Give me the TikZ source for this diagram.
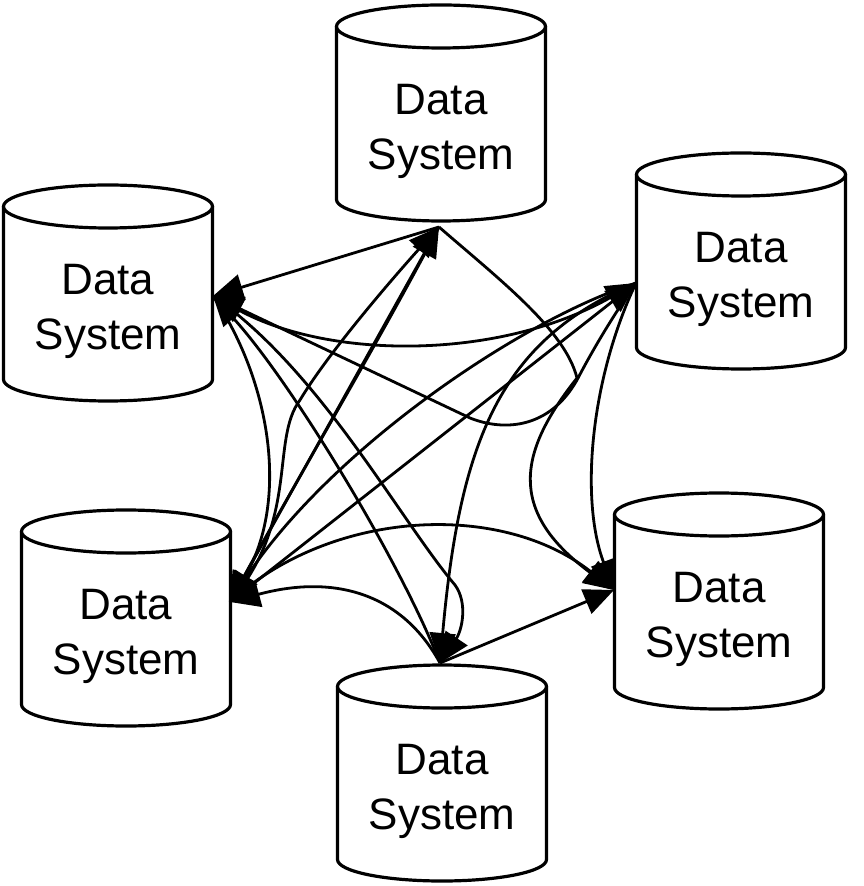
\documentclass[tikz,border=0pt]{standalone}
\usepackage{fontspec}
\setmainfont{Liberation Sans}
\usetikzlibrary{arrows.meta}

% one database drum: name, centre x, top y; label is the named node
\newcommand{\dbcylinder}[3]{%
  \begin{scope}[shift={(#2,#3)}]
    \draw[cyl] (-104.5,21.5) -- (-104.5,194.5)
      arc[start angle=180, end angle=0, x radius=104.5, y radius=21.5]
      -- (104.5,21.5);
    \draw[cyl] (0,21.5) ellipse[x radius=104.5, y radius=21.5];
  \end{scope}
  \node[lbl] (#1) at (#2,#3+126) {Data\\System};
}

\begin{document}
\begin{tikzpicture}[x=0.5pt, y=-0.5pt,
  cyl/.style={line width=1.6pt, fill=white},
  lbl/.style={font=\fontsize{22}{27.5}\selectfont, align=center, inner sep=0pt},
  flow/.style={line width=1.4pt, -{Triangle[length=15pt,width=13pt]}},
  twoway/.style={line width=1.4pt, {Triangle[length=15pt,width=13pt]}-{Triangle[length=15pt,width=13pt]}}]
\useasboundingbox (0,0) rectangle (863,886);

% the six data systems
\dbcylinder{dsT}{441}{5}
\dbcylinder{dsUL}{108}{185}
\dbcylinder{dsUR}{741}{153}
\dbcylinder{dsLL}{126}{510}
\dbcylinder{dsLR}{719}{493}
\dbcylinder{dsB}{442}{665}

% connection points on each drum
\coordinate (ts)  at (439,227);
\coordinate (ule) at (213,296);
\coordinate (urw) at (636,283);
\coordinate (lle) at (230,602);
\coordinate (lrw) at (614,590);
\coordinate (bn)  at (440,663);

% point-to-point interfaces
\draw[flow] (ts) -- (ule);
\draw[twoway] (ule) .. controls (330,360) and (500,360) .. (urw);
\draw[flow] (urw) .. controls (610,320) and (590,355) .. (577,380)
  .. controls (550,428) and (505,432) .. (470,418) -- (ule);
\draw[flow] (ule) .. controls (320,370) and (400,520) .. (455,585)
  .. controls (468,603) and (462,630) .. (bn);
\draw[flow] (ule) .. controls (270,380) and (290,500) .. (lle);
\draw[flow] (lle) -- (ts);
\draw[flow] (ts) .. controls (377,345) and (302,470) .. (lle);
\draw[flow] (lle) .. controls (300,520) and (270,440) .. (300,400)
  .. controls (330,350) and (400,270) .. (ts);
\draw[flow] (urw) .. controls (520,320) and (330,450) .. (lle);
\draw[flow] (lle) -- (urw);
\draw[flow] (urw) .. controls (500,340) and (460,440) .. (bn);
\draw[flow] (urw) .. controls (590,380) and (580,500) .. (lrw);
\draw[flow] (ts) .. controls (500,280) and (565,330) .. (577,378)
  .. controls (520,450) and (505,510) .. (lrw);
\draw[flow] (lle) .. controls (330,510) and (500,500) .. (lrw);
\draw[flow] (bn) -- (lrw);
\draw[flow] (bn) .. controls (400,590) and (330,575) .. (lle);
\draw[flow] (bn) .. controls (400,560) and (290,380) .. (ule);
\end{tikzpicture}
\end{document}
